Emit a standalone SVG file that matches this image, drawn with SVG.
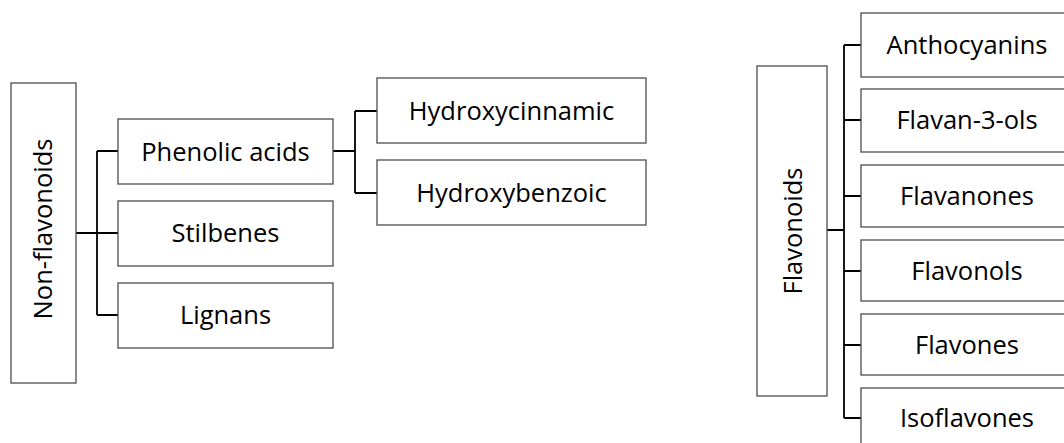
<svg xmlns="http://www.w3.org/2000/svg" width="1064" height="443" viewBox="0 0 1064 443">
  <style>
    .box { fill: #ffffff; stroke: #4d4d4d; stroke-width: 1.3; }
    .lbl { font-family: "Open Sans", "Liberation Sans", sans-serif; font-size: 25.5px; fill: #000000; text-anchor: middle; }
    .wire { fill: none; stroke: #000000; stroke-width: 1.8; }
  </style>
  <rect width="1064" height="443" fill="#ffffff"/>

  <!-- tree connectors -->
  <g id="connectors" class="wire">
    <path d="M76 233 H97 M97 151 V315 M97 151 H118 M97 233 H118 M97 315 H118"/>
    <path d="M333 151 H355 M355 111 V193 M355 111 H377 M355 193 H377"/>
    <path d="M827 230 H844 M844 45 V418 M844 45 H861 M844 120 H861 M844 196 H861 M844 271 H861 M844 345 H861 M844 418 H861"/>
  </g>

  <!-- non-flavonoid branch -->
  <g id="non-flavonoids">
    <rect class="box" x="11" y="83" width="65" height="300"/>
    <text class="lbl" transform="translate(52 229) rotate(-90)">Non-flavonoids</text>
  </g>
  <g id="phenolic-acids">
    <rect class="box" x="118" y="119" width="215" height="65"/>
    <text class="lbl" x="225.5" y="161">Phenolic acids</text>
  </g>
  <g id="stilbenes">
    <rect class="box" x="118" y="201" width="215" height="65"/>
    <text class="lbl" x="225.5" y="242">Stilbenes</text>
  </g>
  <g id="lignans">
    <rect class="box" x="118" y="283" width="215" height="65"/>
    <text class="lbl" x="225.5" y="324">Lignans</text>
  </g>
  <g id="hydroxycinnamic">
    <rect class="box" x="377" y="78" width="269" height="65"/>
    <text class="lbl" x="511.5" y="119.5">Hydroxycinnamic</text>
  </g>
  <g id="hydroxybenzoic">
    <rect class="box" x="377" y="160" width="269" height="65"/>
    <text class="lbl" x="511.5" y="201.5">Hydroxybenzoic</text>
  </g>

  <!-- flavonoid branch -->
  <g id="flavonoids">
    <rect class="box" x="757" y="66" width="70" height="330"/>
    <text class="lbl" transform="translate(802 231) rotate(-90)">Flavonoids</text>
  </g>
  <g id="anthocyanins">
    <rect class="box" x="861" y="13" width="212" height="64"/>
    <text class="lbl" x="967" y="53.5">Anthocyanins</text>
  </g>
  <g id="flavan-3-ols">
    <rect class="box" x="861" y="89" width="212" height="63"/>
    <text class="lbl" x="967" y="129">Flavan-3-ols</text>
  </g>
  <g id="flavanones">
    <rect class="box" x="861" y="165" width="212" height="62"/>
    <text class="lbl" x="967" y="204.5">Flavanones</text>
  </g>
  <g id="flavonols">
    <rect class="box" x="861" y="240" width="212" height="61"/>
    <text class="lbl" x="967" y="279.5">Flavonols</text>
  </g>
  <g id="flavones">
    <rect class="box" x="861" y="314" width="212" height="61"/>
    <text class="lbl" x="967" y="353.5">Flavones</text>
  </g>
  <g id="isoflavones">
    <rect class="box" x="861" y="388" width="212" height="62"/>
    <text class="lbl" x="967" y="427">Isoflavones</text>
  </g>
</svg>
